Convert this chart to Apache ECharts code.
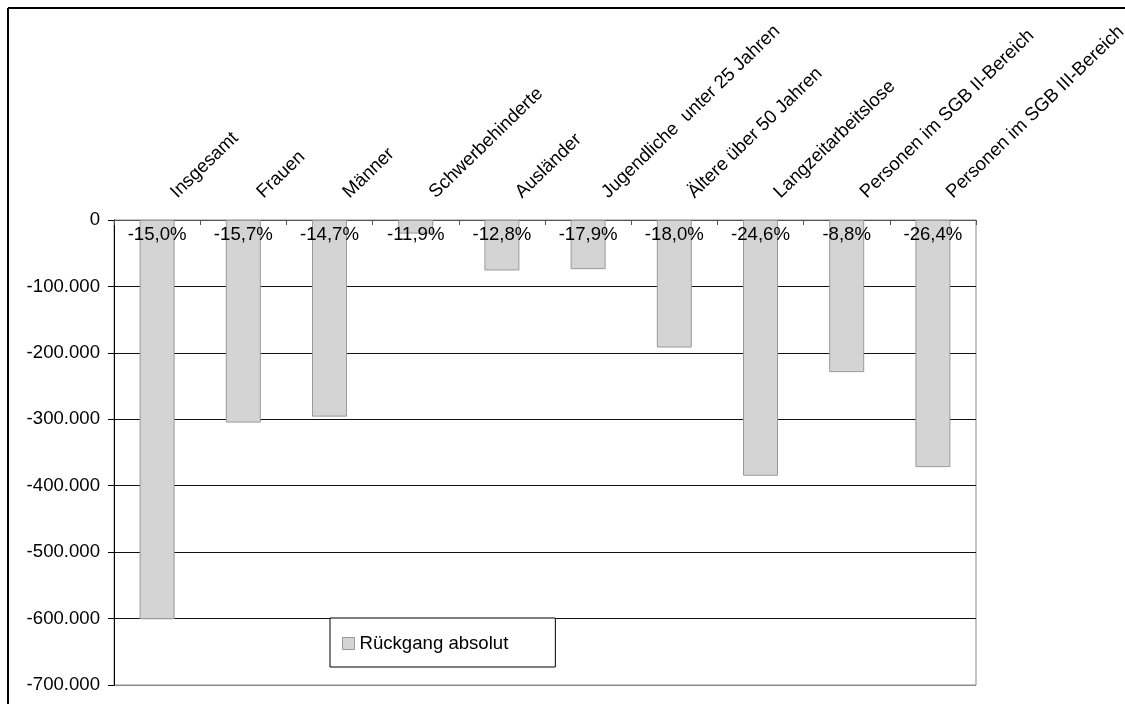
<!DOCTYPE html>
<html>
<head>
<meta charset="utf-8">
<script src="https://cdn.jsdelivr.net/npm/echarts@6/dist/echarts.min.js"></script>
<style>
html,body{margin:0;padding:0;background:#fff;}
#c{width:1125px;height:704px;}
</style>
</head>
<body>
<div id="c"></div>
<script>
const categories = ['Insgesamt','Frauen','Männer','Schwerbehinderte','Ausländer','Jugendliche  unter 25 Jahren','Ältere über 50 Jahren','Langzeitarbeitslose','Personen im SGB II-Bereich','Personen im SGB III-Bereich'];
const rueckgangAbsolut = [-601000,-305000,-296000,-20500,-76000,-74000,-192000,-385000,-229000,-372000];
const pctLabels = ['-15,0%','-15,7%','-14,7%','-11,9%','-12,8%','-17,9%','-18,0%','-24,6%','-8,8%','-26,4%'];
const seriesName = 'Rückgang absolut';
const yMin = -700000, yMax = 0, yStep = 100000;

const FONT = 'Liberation Sans, Arial, sans-serif';
const FS = 18.6;
const chart = echarts.init(document.getElementById('c'));

function fmt(v){
  const neg = v < 0; let s = String(Math.abs(v));
  s = s.replace(/\B(?=(\d{3})+(?!\d))/g, '.');
  return (neg ? '-' : '') + s;
}

chart.setOption({
  animation: false,
  backgroundColor: '#fff',
  textStyle: {fontFamily: FONT},
  graphic: [
    {type:'line', shape:{x1:8, y1:8, x2:1125, y2:8}, style:{stroke:'#000', lineWidth:2}},
    {type:'line', shape:{x1:8, y1:8, x2:8, y2:704}, style:{stroke:'#000', lineWidth:2}}
  ],
  grid: {left:114, right:149, top:220, bottom:19, outerBoundsMode:'none', containLabel:false, show:true, borderColor:'#8a8a8a', borderWidth:1, backgroundColor:'transparent'},
  legend: {
    left: 330, top: 618,
    orient: 'horizontal',
    data: [seriesName],
    backgroundColor: '#fff',
    borderColor: '#000', borderWidth: 1,
    padding: [16, 47, 14, 12],
    itemWidth: 12, itemHeight: 12,
    icon: 'rect',
    textStyle: {fontFamily: FONT, fontSize: FS, color: '#000'},
    itemStyle: {color:'#d4d4d4', borderColor:'#9a9a9a', borderWidth:1}
  },
  xAxis: {
    type: 'category',
    position: 'top',
    data: categories,
    axisLine: {show:true, onZero:false, lineStyle:{color:'#555', width:1}},
    axisTick: {show:true, inside:true, length:5, lineStyle:{color:'#555'}},
    axisLabel: {rotate:-44, interval:0, margin:9, padding:[20,0,0,23], fontFamily:FONT, fontSize:FS, color:'#000'},
    splitLine: {show:false}
  },
  yAxis: {
    type: 'value',
    min: yMin, max: yMax, interval: yStep,
    axisLine: {show:true, lineStyle:{color:'#000', width:1}},
    axisTick: {show:true, inside:false, length:6, lineStyle:{color:'#000'}},
    axisLabel: {margin:14, fontFamily:FONT, fontSize:FS, color:'#000', formatter: v => fmt(v)},
    splitLine: {show:true, lineStyle:{color:['#8a8a8a','#111','#111','#111','#111','#111','#111','#555'], width:1}}
  },
  series: [{
    name: seriesName,
    type: 'bar',
    data: rueckgangAbsolut,
    barWidth: 35,
    itemStyle: {color:'#d4d4d4', borderColor:'#9a9a9a', borderWidth:1},
    label: {
      show: true,
      position: 'insideTop',
      distance: 5,
      fontFamily: FONT, fontSize: FS, color: '#000',
      formatter: p => pctLabels[p.dataIndex]
    },
    labelLayout: {hideOverlap:false}
  }]
});
</script>
</body>
</html>
